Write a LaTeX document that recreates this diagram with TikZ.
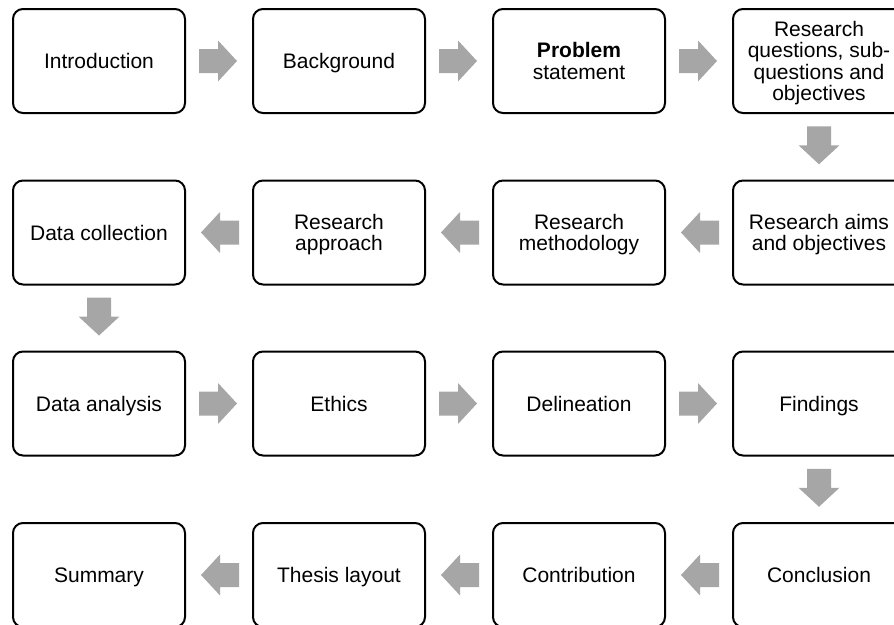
\documentclass[tikz,border=0pt]{standalone}
\usepackage{fontspec}
\setmainfont{Liberation Sans}
\usetikzlibrary{calc}
\definecolor{arrowgray}{HTML}{A6A6A6}
% fixed-size strut so every line of text sits at the same place
\newcommand\linestrut{\rule[-4.5pt]{0pt}{24pt}}
% stage text: tight leading, struts may overlap between lines
\newcommand\stagefont{\fontsize{21}{21.5}\selectfont
  \lineskiplimit=-50pt\relax\lineskip=0pt\relax}
\tikzset{
  stage/.style={draw=black, line width=2pt, rounded corners=10pt, fill=white,
    minimum width=172pt, minimum height=104pt, inner sep=0pt, align=center,
    font=\stagefont},
  flow/.pic={\fill[arrowgray] (-19,-12) -- (0,-12) -- (0,-20.5) -- (19,0)
    -- (0,20.5) -- (0,12) -- (-19,12) -- cycle;}
}
\begin{document}
\begin{tikzpicture}[x=1pt, y=-1pt]
\useasboundingbox (0,0) rectangle (894,624);
% row 1 (left to right)
\node[stage] (n1) at (99,61) {\linestrut Introduction};
\node[stage] (n2) at (339,61) {\linestrut Background};
\node[stage] (n3) at (579,61) {\linestrut\textbf{Problem}\\\linestrut statement};
\node[stage] (n4) at (819,61) {\linestrut Research\\\linestrut questions, sub-\\\linestrut questions and\\\linestrut objectives};
% row 2 (right to left)
\node[stage] (n5) at (819,232.5) {\linestrut Research aims\\\linestrut and objectives};
\node[stage] (n6) at (579,232.5) {\linestrut Research\\\linestrut methodology};
\node[stage] (n7) at (339,232.5) {\linestrut Research\\\linestrut approach};
\node[stage] (n8) at (99,232.5) {\linestrut Data collection};
% row 3 (left to right)
\node[stage] (n9) at (99,403.5) {\linestrut Data analysis};
\node[stage] (n10) at (339,403.5) {\linestrut Ethics};
\node[stage] (n11) at (579,403.5) {\linestrut Delineation};
\node[stage] (n12) at (819,403.5) {\linestrut Findings};
% row 4 (right to left)
\node[stage] (n13) at (819,575) {\linestrut Conclusion};
\node[stage] (n14) at (579,575) {\linestrut Contribution};
\node[stage] (n15) at (339,575) {\linestrut Thesis layout};
\node[stage] (n16) at (99,575) {\linestrut Summary};
% block arrows between consecutive stages
\pic at ($(n1.east)!0.5!(n2.west)+(-1,0)$) {flow};
\pic at ($(n2.east)!0.5!(n3.west)+(-1,0)$) {flow};
\pic at ($(n3.east)!0.5!(n4.west)+(-1,0)$) {flow};
\pic[rotate=-90] at ($(n4.south)!0.5!(n5.north)+(0,-1.5)$) {flow};
\pic[rotate=180] at ($(n5.west)!0.5!(n6.east)+(1,0)$) {flow};
\pic[rotate=180] at ($(n6.west)!0.5!(n7.east)+(1,0)$) {flow};
\pic[rotate=180] at ($(n7.west)!0.5!(n8.east)+(1,0)$) {flow};
\pic[rotate=-90] at ($(n8.south)!0.5!(n9.north)+(0,-1.5)$) {flow};
\pic at ($(n9.east)!0.5!(n10.west)+(-1,0)$) {flow};
\pic at ($(n10.east)!0.5!(n11.west)+(-1,0)$) {flow};
\pic at ($(n11.east)!0.5!(n12.west)+(-1,0)$) {flow};
\pic[rotate=-90] at ($(n12.south)!0.5!(n13.north)+(0,-1.5)$) {flow};
\pic[rotate=180] at ($(n13.west)!0.5!(n14.east)+(1,0)$) {flow};
\pic[rotate=180] at ($(n14.west)!0.5!(n15.east)+(1,0)$) {flow};
\pic[rotate=180] at ($(n15.west)!0.5!(n16.east)+(1,0)$) {flow};
\end{tikzpicture}
\end{document}
